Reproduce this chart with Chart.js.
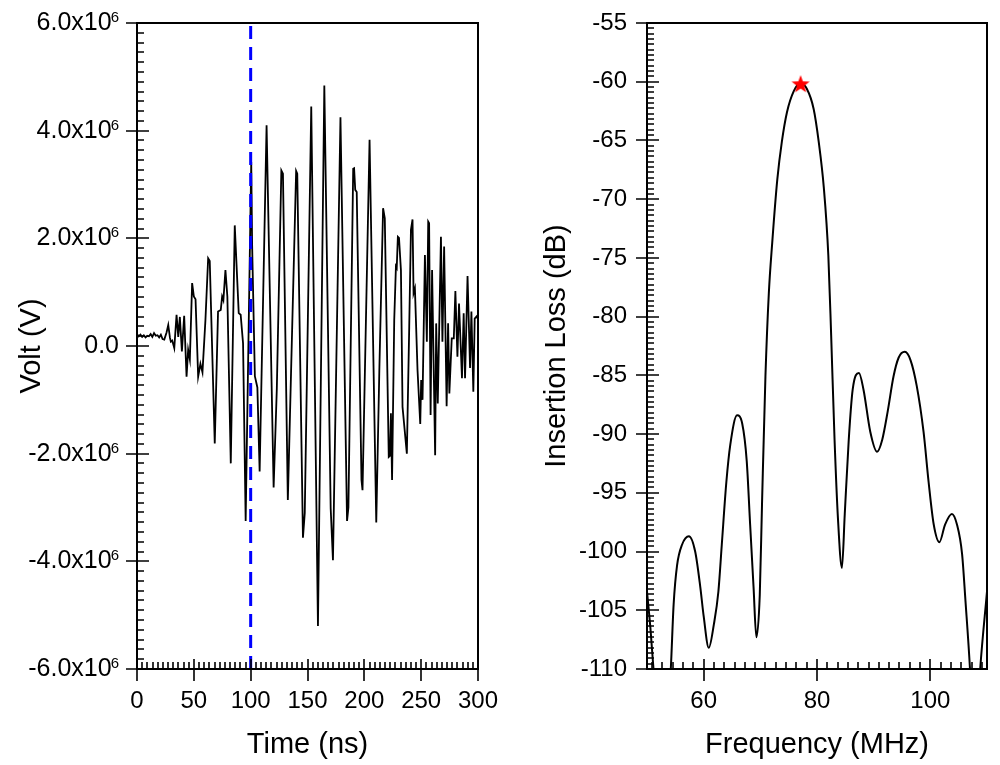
<!DOCTYPE html>
<html>
<head>
<meta charset="utf-8">
<script src="https://cdn.jsdelivr.net/npm/chart.js@4.4.1/dist/chart.umd.min.js"></script>
<style>
  body { margin: 0; background: #fff; }
  #left { position: absolute; left: 0; top: 0; }
  #right { position: absolute; left: 500px; top: 0; }
</style>
</head>
<body>
<canvas id="left" width="500" height="765"></canvas>
<canvas id="right" width="500" height="765"></canvas>
<script>
// left panel: time signal, volts in units of 10^6 V
var timeNs = [0, 1.5, 3, 4.5, 6, 7.5, 9, 10.5, 12, 13.5, 15, 16.5, 18, 19.5, 21, 22.5, 24,
  26, 27.5, 29, 29.8, 31, 32.8, 34.8, 36.3, 37.7, 39.5, 41.5, 43.6, 45, 46.5, 48.5, 50, 51.5,
  53.8, 55.8, 57.6, 60.2, 62.6, 64, 68.4, 71.3, 73.7, 74.9, 76, 77.8, 79.5, 82.5, 86, 89.5,
  91.2, 93.3, 95.6, 100.5, 101.3, 103.7, 105.9, 107.9, 114, 120.2, 123, 127, 128.4, 132.7,
  140, 141, 146, 147.6, 153.3, 159.2, 164.8, 170.4, 172.4, 179, 184.8, 186, 190.2, 191, 192,
  193.3, 197.5, 198.4, 204.6, 210.5, 213.2, 216.5, 218, 221.5, 222.5, 223.4, 224.4, 226.3,
  227.8, 228.5, 229.5, 230.5, 232.2, 233.6, 237.4, 239.5, 241, 242.4, 243.3, 244.5, 246.8,
  249.2, 250, 251.2, 253.3, 255, 256.2, 257, 258.3, 259.6, 262.3, 263.2, 264.6, 267.4, 268.7,
  270.2, 272.4, 273.7, 274.8, 276.9, 278.7, 280.1, 281.9, 283.3, 285.9, 287.4, 288.6, 290.8,
  293, 294.2, 295.9, 297.1, 298.8, 300];
var voltMV = [0.22, 0.18, 0.21, 0.17, 0.2, 0.16, 0.19, 0.18, 0.22, 0.17, 0.24, 0.19, 0.2, 0.16, 0.21, 0.13, 0.12,
  0.25, 0.39, 0.15, 0.08, 0.1, -0.04, 0.58, 0.17, 0.54, -0.1, 0.56, -0.57, -0.07, -0.25, 1.17, 0.92, 0.87,
  -0.57, -0.33, -0.49, 0.48, 1.63, 1.58, -1.81, 0.64, 0.67, 0.92, 0.85, 1.41, 0.92, -2.18, 2.24, 0.61,
  0.58, 0.05, -3.25, 3.42, 1.86, -0.56, -0.77, -2.33, 4.1, -2.63, -0.8, 3.26, 3.2, -2.86,
  3.25, 3.2, -3.56, -3.1, 4.45, -5.2, 4.84, -3.02, -3.98, 4.25, -3.25, -3.0, 3.29, 3.3, 2.9,
  2.86, -2.49, -2.68, 3.83, -3.28, -0.45, 2.56, 2.37, -2.06, -2.04, -1.25, -2.49, 0.48,
  1.48, 1.45, 2.03, 2.01, 1.41, -1.13, -2.0, 0.36, 2.16, 2.35, 0.98, 1.07, -0.45,
  -1.45, -0.63, -1.0, 1.69, 0.08, 2.31, 2.28, -1.28, 1.41, -2.03, 0.42, -1.07, 2.03, 0.08,
  1.85, -1.12, 0.42, -0.88, 0.14, 0.14, 1.02, -0.2, 0.79, -0.6, 0.61, -0.6, 1.3,
  -0.41, 0.64, -0.85, 0.51, 0.55, 0.5];
var cursorTime = [100, 100];
var cursorVolt = [-6, 6];
var timeTicks = [0, 50, 100, 150, 200, 250, 300];
var voltTicks = [-6, -4, -2, 0, 2, 4, 6];

// right panel: insertion loss
var freqMHz = [50, 50.6, 51.3, 52.5, 53.8, 54.2, 54.7, 55.3, 56.2, 57.4, 58.5, 59.4, 60, 60.9, 61.8,
  62.6, 63.2, 64, 64.7, 65.9, 66.8, 67.6, 68.2, 68.8, 69.3, 69.9, 70.3, 70.9, 71.5, 72.1, 73,
  73.8, 74.7, 75.9, 77.1, 78.2, 79.4, 80.3, 81.2, 82, 82.5, 83.1, 83.7, 84.4, 84.9, 85.6,
  86.3, 87.4, 88.2, 89.4, 90.6, 91.5, 92.5, 93.5, 94.4, 95.5, 96.5, 97.6, 98.8, 99.7, 100.6,
  101.6, 102.6, 103.8, 104.7, 105.6, 106.2, 107, 107.8, 108.8, 110];
var lossDb = [-103.4, -106.5, -111, -120, -113, -110, -104.5, -101.2, -99.4, -98.7, -100, -103, -105.5, -108.2, -106.2,
  -103.4, -99.4, -94.1, -90.9, -88.4, -89.1, -92.3, -97.7, -103, -107.3, -103.7, -95.9, -85.1, -78, -73.7, -68.3,
  -65.1, -62.6, -60.8, -60.1, -60.6, -62.3, -65.1, -69, -74.8, -81.6, -90.5, -97.2, -101.4, -96.8, -90.5,
  -86.2, -84.8, -86.2, -89.8, -91.5, -90.5, -88, -85.1, -83.5, -83, -83.7, -85.9, -89.8, -94.1, -97.7,
  -99.2, -97.7, -96.8, -97.7, -100.2, -104.2, -110, -118, -110, -103.4];
var peakFreq = [77.1];
var peakLoss = [-60.2];
var freqTicks = [60, 80, 100];
var lossTicks = [-110, -105, -100, -95, -90, -85, -80, -75, -70, -65, -60, -55];

function pairs(xs, ys) {
  return xs.map(function(v, i) { return {x: v, y: ys[i]}; });
}

// filled red star used as point style
var star = document.createElement('canvas');
star.width = 20; star.height = 20;
(function() {
  var c = star.getContext('2d');
  c.beginPath();
  for (var i = 0; i < 10; i++) {
    var r = i % 2 ? 3.9 : 9.5;
    var a = -Math.PI / 2 + i * Math.PI / 5;
    c.lineTo(10 + r * Math.cos(a), 10.5 + r * Math.sin(a));
  }
  c.closePath();
  c.fillStyle = '#ff0000';
  c.fill();
})();

var FONT = '"Liberation Sans", Arial, sans-serif';

// box frame plus Origin style ticks: majors cross the axis, 10 minors point inward
var frameTicks = {
  id: 'frameTicks',
  afterDraw: function(chart, args, opts) {
    var ctx = chart.ctx, a = chart.chartArea, sx = chart.scales.x, sy = chart.scales.y;
    ctx.save();
    ctx.strokeStyle = '#000';
    ctx.lineWidth = 2;
    ctx.strokeRect(a.left, a.top, a.right - a.left, a.bottom - a.top);
    ctx.lineWidth = 1.6;
    ctx.beginPath();
    function each(scale, majors, fn) {
      var step = (majors[1] - majors[0]) / 11;
      var k0 = Math.ceil((scale.min - majors[0]) / step - 1e-6);
      var k1 = Math.floor((scale.max - majors[0]) / step + 1e-6);
      for (var k = k0; k <= k1; k++) {
        fn(Math.round(scale.getPixelForValue(majors[0] + k * step)), ((k % 11) + 11) % 11 === 0);
      }
    }
    each(sy, opts.yMajors, function(p, major) {
      if (major) { ctx.moveTo(a.left - 11, p); ctx.lineTo(a.left + 12, p); }
      else { ctx.moveTo(a.left, p); ctx.lineTo(a.left + 7, p); }
    });
    each(sx, opts.xMajors, function(p, major) {
      if (major) { ctx.moveTo(p, a.bottom + 12); ctx.lineTo(p, a.bottom - 10); }
      else { ctx.moveTo(p, a.bottom); ctx.lineTo(p, a.bottom - 7); }
    });
    ctx.stroke();

    // y labels written as mantissa x10 with a raised exponent
    if (opts.sciLabels) {
      ctx.fillStyle = '#000';
      ctx.textAlign = 'right';
      opts.yMajors.forEach(function(v) {
        var p = sy.getPixelForValue(v);
        var right = a.left - 18;
        if (v === 0) {
          ctx.font = '25px ' + FONT;
          ctx.textBaseline = 'middle';
          ctx.fillText('0.0', right, p);
          return;
        }
        ctx.font = '15px ' + FONT;
        ctx.textBaseline = 'alphabetic';
        ctx.fillText('6', right, p - 1);
        var ew = ctx.measureText('6').width;
        ctx.font = '25px ' + FONT;
        ctx.textBaseline = 'middle';
        ctx.fillText(v.toFixed(1) + 'x10', right - ew + 1, p);
      });
    }
    ctx.restore();
  }
};

function noPad(s) {
  s.paddingLeft = 0; s.paddingRight = 0; s.paddingTop = 0; s.paddingBottom = 0;
}

Chart.defaults.font.family = FONT;
Chart.defaults.color = '#000';
Chart.defaults.animation = false;

var tickFont = {size: 24};
var titleFont = {size: 29};

new Chart('left', {
  type: 'line',
  data: {
    datasets: [{
      data: pairs(cursorTime, cursorVolt),
      borderColor: '#0000ff',
      borderWidth: 3,
      borderDash: [13, 8],
      pointRadius: 0
    }, {
      data: pairs(timeNs, voltMV),
      borderColor: '#000',
      borderWidth: 1.8,
      pointRadius: 0,
      tension: 0
    }]
  },
  options: {
    responsive: false,
    layout: {padding: {top: 23, right: 22, bottom: 0, left: 0}},
    plugins: {
      legend: {display: false},
      tooltip: {enabled: false},
      frameTicks: {xMajors: timeTicks, yMajors: voltTicks, sciLabels: true}
    },
    scales: {
      x: {
        type: 'linear', min: 0, max: 300,
        afterBuildTicks: function(s) { s.ticks = timeTicks.map(function(v) { return {value: v}; }); },
        afterFit: function(s) { s.height = 96; noPad(s); },
        grid: {display: false, drawTicks: false},
        border: {display: false},
        ticks: {font: tickFont, padding: 18, maxRotation: 0, autoSkip: false},
        title: {display: true, text: 'Time (ns)', font: titleFont, padding: {top: 0, bottom: 3}}
      },
      y: {
        type: 'linear', min: -6, max: 6,
        afterBuildTicks: function(s) { s.ticks = voltTicks.map(function(v) { return {value: v}; }); },
        afterFit: function(s) { s.width = 137; noPad(s); },
        grid: {display: false, drawTicks: false},
        border: {display: false},
        ticks: {display: false},
        title: {display: true, text: 'Volt (V)', font: titleFont, padding: {top: 15, bottom: 0}}
      }
    }
  },
  plugins: [frameTicks]
});

new Chart('right', {
  type: 'line',
  data: {
    datasets: [{
      data: pairs(peakFreq, peakLoss),
      showLine: false,
      pointStyle: star,
      pointRadius: 10
    }, {
      data: pairs(freqMHz, lossDb),
      borderColor: '#000',
      borderWidth: 2,
      pointRadius: 0,
      cubicInterpolationMode: 'monotone'
    }]
  },
  options: {
    responsive: false,
    layout: {padding: {top: 23, right: 13, bottom: 0, left: 0}},
    plugins: {
      legend: {display: false},
      tooltip: {enabled: false},
      frameTicks: {xMajors: freqTicks, yMajors: lossTicks}
    },
    scales: {
      x: {
        type: 'linear', min: 50, max: 110,
        afterBuildTicks: function(s) { s.ticks = freqTicks.map(function(v) { return {value: v}; }); },
        afterFit: function(s) { s.height = 96; noPad(s); },
        grid: {display: false, drawTicks: false},
        border: {display: false},
        ticks: {font: tickFont, padding: 18, maxRotation: 0, autoSkip: false},
        title: {display: true, text: 'Frequency (MHz)', font: titleFont, padding: {top: 0, bottom: 3}}
      },
      y: {
        type: 'linear', min: -110, max: -55,
        afterBuildTicks: function(s) { s.ticks = lossTicks.map(function(v) { return {value: v}; }); },
        afterFit: function(s) { s.width = 147; noPad(s); },
        grid: {display: false, drawTicks: false},
        border: {display: false},
        ticks: {font: tickFont, padding: 20, autoSkip: false},
        title: {display: true, text: 'Insertion Loss (dB)', font: titleFont, padding: {top: 40, bottom: 0}}
      }
    }
  },
  plugins: [frameTicks]
});
</script>
</body>
</html>
